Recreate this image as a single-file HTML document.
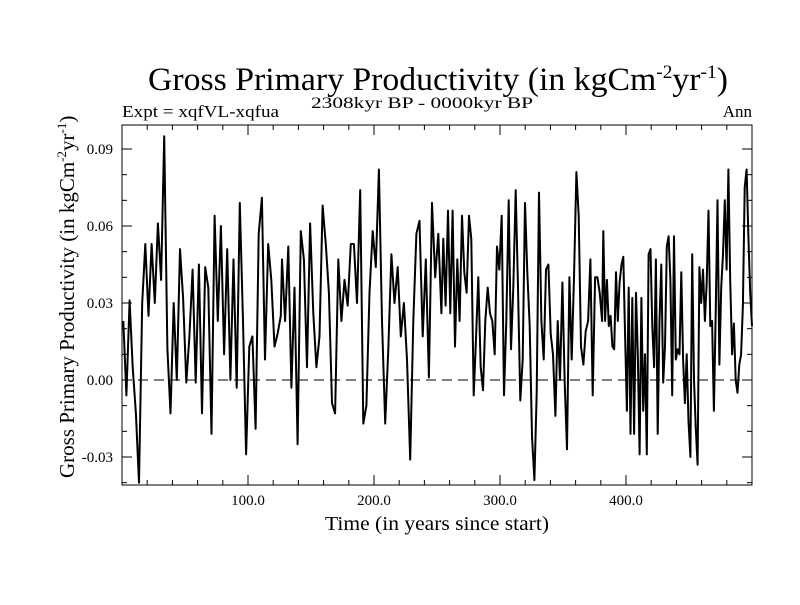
<!DOCTYPE html>
<html><head><meta charset="utf-8"><style>
html,body{margin:0;padding:0;background:#fff;}
svg text{font-family:"Liberation Serif",serif;fill:#000;}
</style></head><body>
<svg id="chart" width="800" height="600" viewBox="0 0 800 600" xmlns="http://www.w3.org/2000/svg">
<rect width="800" height="600" fill="#fff"/>
<text x="148" y="90" font-size="33" textLength="580" lengthAdjust="spacingAndGlyphs">Gross Primary Productivity (in kgCm<tspan dy="-12" font-size="19">-2</tspan><tspan dy="12">yr</tspan><tspan dy="-12" font-size="19">-1</tspan><tspan dy="12">)</tspan></text>
<text x="122" y="117" font-size="17" textLength="157" lengthAdjust="spacingAndGlyphs">Expt = xqfVL-xqfua</text>
<text x="311" y="108" font-size="16" textLength="222" lengthAdjust="spacingAndGlyphs">2308kyr BP - 0000kyr BP</text>
<text x="752" y="117" font-size="17" text-anchor="end">Ann</text>
<text transform="translate(74,478) rotate(-90)" font-size="21">Gross Primary Productivity (in kgCm<tspan dy="-8" font-size="13">-2</tspan><tspan dy="8">yr</tspan><tspan dy="-8" font-size="13">-1</tspan><tspan dy="8">)</tspan></text>
<text x="325" y="530" font-size="20" textLength="224" lengthAdjust="spacingAndGlyphs">Time (in years since start)</text>
<g id="axes"></g>
<g id="series"></g>
</svg>
<script>
const segStarts = [1, 127, 255, 382];
const segEnds = [126, 253.5, 381, 500];
const seg1 = [23,-6,31,5,-13,-40,30,53,25,53,30,61,39,95,12,-13,30,0,51,32,-1,17,43,-1,45,-13,44,36,-21,64,23,60,10,51,0,47,-3,69,23,-29,13,17,-19,57,71,8,53,39,13,18,25];
const seg2 = [47,23,52,-3,36,-25,58,47,5,61,26,5,17,68,53,34,-9,-13,47,23,39,29,53,53,30,74,-17,-10,34,58,44,82,23,-17,12,49,30,44,17,30,8,-31,23,57,62,17,47,1,69,40,57,26];
const seg3 = [55,29,66,26,66,13,47,23,64,42,34,64,55,-6,16,40,5,-4,23,36,26,23,10,52,43,64,-6,23,70,12,36,74,36,-8,8,69,42,21,-22,-39,-5,73,23,8,43,45,18,10,-14,23,0,38,-1,-27,40,8,40,81,64,13,6,19,23,47,-6,40,40,34,23];
const seg4 = [58,23,39,21,25,13,12,42,23,38,45,48,17,-12,36,-21,32,-21,34,10,-29,32,-12,10,-29,49,51,21,5,47,-21,23,45,-1,13,52,56,39,-6,56,8,12,10,42,8,-9,10,-16,-30,49,0,-19,-33,44,30,43,23,38,66,21,23,-12,26,70,6,36,49,70,43,82,39,10,22,0,-5,6,10,29,75,82,56,34,21];
const yTickValues = [-0.03, 0.00, 0.03, 0.06, 0.09];
const yTickLabels = ["-0.03", "0.00", "0.03", "0.06", "0.09"];
const xTickValues = [100, 200, 300, 400];
const xTickLabels = ["100.0", "200.0", "300.0", "400.0"];

const L=122,R=752,T=125,B=485;
const xMin=0,xMax=500,yMin=-0.04091,yMax=0.09935;
const xs=v=>L+(v-xMin)/(xMax-xMin)*(R-L);
const ys=v=>B-(v-yMin)/(yMax-yMin)*(B-T);
const NS="http://www.w3.org/2000/svg";
const mk=(t,a,p)=>{const e=document.createElementNS(NS,t);for(const k in a)e.setAttribute(k,a[k]);p.appendChild(e);return e;};
const axes=document.getElementById('axes'), series=document.getElementById('series');

const segs=[seg1,seg2,seg3,seg4];
let pts=[];
segs.forEach((s,k)=>{const n=s.length;s.forEach((v,i)=>{const yr=segStarts[k]+(n>1?i*(segEnds[k]-segStarts[k])/(n-1):0);pts.push([xs(yr),ys(v/1000)]);});});

const zl=mk('line',{x1:L,x2:R,y1:ys(0),y2:ys(0),stroke:'#000','stroke-width':1,'stroke-dasharray':'10,6'},axes);



const line=mk('polyline',{points:pts.map(p=>p[0].toFixed(1)+','+p[1].toFixed(1)).join(' '),fill:'none',stroke:'#000','stroke-width':2,'stroke-linejoin':'round'},series);



const frame=mk('rect',{x:L,y:T,width:R-L,height:B-T,fill:'none',stroke:'#000','stroke-width':1},axes);



for(let v=-0.04;v<=0.0995;v+=0.01){const y=ys(v);if(y<T||y>B)continue;
 mk('line',{x1:L,x2:L+5,y1:y,y2:y,stroke:'#000'},axes);mk('line',{x1:R,x2:R-5,y1:y,y2:y,stroke:'#000'},axes);}
for(let v=20;v<500;v+=20){const x=xs(v);
 mk('line',{x1:x,x2:x,y1:B,y2:B-5,stroke:'#000'},axes);mk('line',{x1:x,x2:x,y1:T,y2:T+5,stroke:'#000'},axes);}
yTickValues.forEach((v,i)=>{const y=ys(v);
 mk('line',{x1:L,x2:L+10,y1:y,y2:y,stroke:'#000'},axes);mk('line',{x1:R,x2:R-10,y1:y,y2:y,stroke:'#000'},axes);
 const t=mk('text',{x:L-9,y:y+5,'font-size':15,'text-anchor':'end'},axes);t.textContent=yTickLabels[i];
 
 });
xTickValues.forEach((v,i)=>{const x=xs(v);
 mk('line',{x1:x,x2:x,y1:B,y2:B-10,stroke:'#000'},axes);mk('line',{x1:x,x2:x,y1:T,y2:T+10,stroke:'#000'},axes);
 const t=mk('text',{x:x,y:B+20,'font-size':15,'text-anchor':'middle'},axes);t.textContent=xTickLabels[i];
 
 });
</script>
</body></html>
